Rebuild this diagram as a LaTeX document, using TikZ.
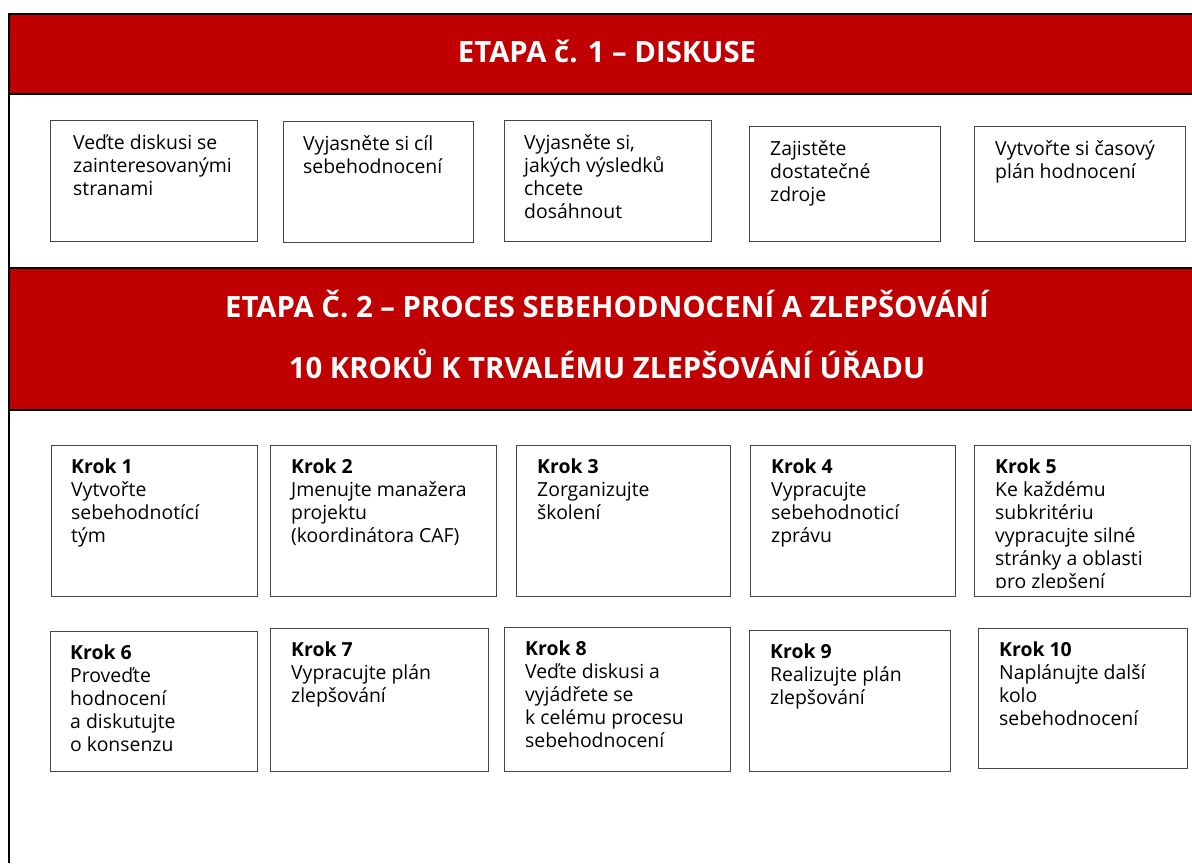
\documentclass[tikz,border=0pt]{standalone}
\usepackage{fontspec}
\setmainfont{Open Sans}
\usepackage{tikz}
\usetikzlibrary{positioning}
\definecolor{cafred}{RGB}{192,0,0}
\definecolor{boxline}{RGB}{70,70,70}
\newcommand{\bodyfont}{\fontsize{19.4}{23}\selectfont}
\newcommand{\titlefont}{\fontsize{29.3}{34}\selectfont\bfseries}

\begin{document}
\begin{tikzpicture}[x=1pt,y=-1pt,
  frameline/.style={line width=2.2pt,black},
  cafbox/.style={draw=boxline,line width=1.1pt,inner sep=0pt,anchor=north west},
  boxtext/.style={font=\bodyfont,align=left,inner sep=0pt,anchor=north west},
  etapa/.style={font=\titlefont,text=white,anchor=base,inner sep=0pt}]
\useasboundingbox (0,0) rectangle (1192,863);
% red bands
\fill[cafred] (9,14) rectangle (1192,94);
\fill[cafred] (9,268) rectangle (1192,410);
\draw[frameline,line join=miter] (1192,14) -- (9,14) -- (9,863);
\draw[frameline] (9,94) -- (1192,94);
\draw[frameline] (9,268) -- (1192,268);
\draw[frameline] (9,410) -- (1192,410);
% titles
\node[etapa] (t1) at (607,62) {ETAPA č. 1 – DISKUSE};
\node[etapa] (t2a) at (607,317) {ETAPA Č. 2 – PROCES SEBEHODNOCENÍ A ZLEPŠOVÁNÍ};
\node[etapa] (t2b) at (607,378) {10 KROKŮ K TRVALÉMU ZLEPŠOVÁNÍ ÚŘADU};
% stage 1 boxes
\foreach \n/\xa/\ya/\xb/\yb/\tx/\txt in {
  1/50/120/257/241/73/{Veďte diskusi se\\zainteresovanými\\stranami},
  2/283/121/473/242/303/{Vyjasněte si cíl\\sebehodnocení},
  3/504/120/711/241/524/{Vyjasněte si,\\jakých výsledků\\chcete\\dosáhnout},
  4/749/126/940/241/770/{Zajistěte\\dostatečné\\zdroje},
  5/974/126/1185/241/995/{Vytvořte si časový\\plán hodnocení}} {
  \node[cafbox,minimum width={(\xb-\xa)*1pt},minimum height={(\yb-\ya)*1pt}]
    (d\n) at (\xa,\ya) {};
  \node[boxtext] (d\n t) at (\tx,\ya+13.4) {\strut\txt};
}
% the ten steps
\foreach \n/\xa/\ya/\xb/\yb/\tx/\txt in {
  1/51/445/257/596/71/{Vytvořte\\sebehodnotící\\tým},
  2/270/445/496/596/291/{Jmenujte manažera\\projektu\\(koordinátora CAF)},
  3/516/445/730/596/537/{Zorganizujte\\školení},
  4/750/445/955/596/771/{Vypracujte\\sebehodnoticí\\zprávu},
  5/974/445/1190/596/995/{Ke každému\\subkritériu\\vypracujte silné\\stránky a oblasti\\pro zlepšení},
  6/50/631/257/771/70/{Proveďte\\hodnocení\\a diskutujte\\o konsenzu},
  7/270/628/488/771/291/{Vypracujte plán\\zlepšování},
  8/504/627/730/771/525/{Veďte diskusi a\\vyjádřete se\\k celému procesu\\sebehodnocení},
  9/749/630/950/771/770/{Realizujte plán\\zlepšování},
  10/978/628/1187/768/999/{Naplánujte další\\kolo\\sebehodnocení}} {
  \node[cafbox,minimum width={(\xb-\xa)*1pt},minimum height={(\yb-\ya)*1pt}]
    (k\n) at (\xa,\ya) {};
  \begin{scope}
    \clip (\xa,\ya) rectangle (\xb,\yb-9);
    \node[boxtext] (k\n t) at (\tx,\ya+12.3) {\strut\textbf{Krok \n}\\\txt};
  \end{scope}
}
\end{tikzpicture}
\end{document}
